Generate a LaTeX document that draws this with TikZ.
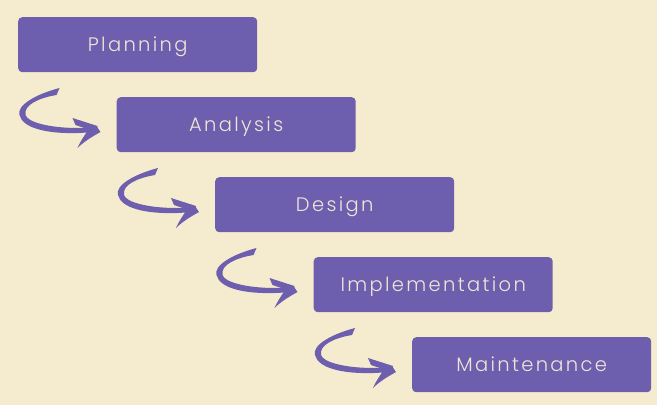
\documentclass[tikz,border=0pt]{standalone}
\usepackage{fontspec}
\newfontfamily\boxfont[LetterSpace=12]{Poppins Light}
\definecolor{bg}{HTML}{F5EBCF}
\definecolor{pur}{HTML}{6E5FAE}
\definecolor{txt}{HTML}{EEE6D6}
\tikzset{
  stepbox/.style={fill=pur, rounded corners=4pt, minimum width=239pt, minimum height=55pt,
    anchor=north west, inner sep=0pt, text height=14.2pt, text depth=0pt, text=txt,
    font=\boxfont\fontsize{19.5pt}{21pt}\selectfont},
  brush/.style={fill=pur, draw=none}
}
\newcommand\curvyarrow[1]{%
  \begin{scope}[shift={(#1.north west)}]
    \fill[brush] (-57,-9) .. controls (-80,-3) and (-100,8) .. (-97,18)
      .. controls (-94,31) and (-70,37) .. (-38,36) -- (-19,35) -- (-20,30)
      -- (-38,31) .. controls (-68,31) and (-89,25) .. (-91,18)
      .. controls (-93,8) and (-78,1) .. (-60,-2) -- cycle;
    \fill[brush] (-44,21) -- (-19,29) -- (-20,35) -- (-41,28) -- cycle;
    \fill[brush] (-20,29) -- (-16,35) .. controls (-25,40) and (-33,45) .. (-39,51)
      .. controls (-36,44) and (-31,37) .. (-27,31) -- cycle;
  \end{scope}}
\begin{document}
\begin{tikzpicture}[x=1pt,y=-1pt]
\fill[bg] (0,0) rectangle (657,405);
\useasboundingbox (0,0) rectangle (657,405);
\node[stepbox] (b1) at (18,17) {Planning};
\node[stepbox] (b2) at (116.5,97) {Analysis};
\node[stepbox] (b3) at (215,177) {Design};
\node[stepbox] (b4) at (313.5,257) {Implementation};
\node[stepbox] (b5) at (412,337) {Maintenance};
\curvyarrow{b2}
\curvyarrow{b3}
\curvyarrow{b4}
\curvyarrow{b5}
\end{tikzpicture}
\end{document}
